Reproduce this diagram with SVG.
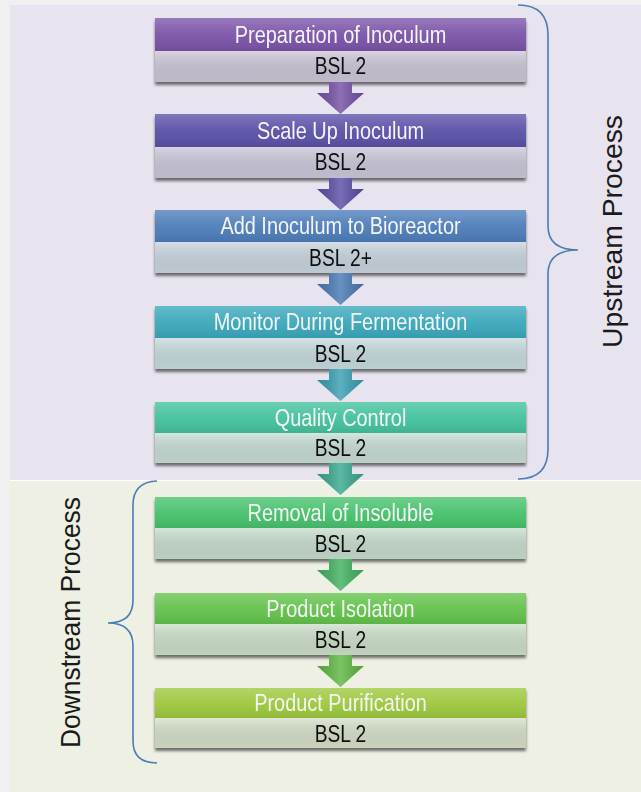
<svg xmlns="http://www.w3.org/2000/svg" width="641" height="792" viewBox="0 0 641 792">
  <style>
    .title { font-family: "Liberation Sans", Arial, sans-serif; font-size: 24px; fill: #f4f4f4; text-anchor: middle; }
    .bsl { font-family: "Liberation Sans", Arial, sans-serif; font-size: 24px; fill: #111111; text-anchor: middle; }
    .side { font-family: "Liberation Sans", Arial, sans-serif; font-size: 28px; fill: #1a1a1a; text-anchor: middle; }
    .brace { fill: none; stroke: #4d7bb3; stroke-width: 1.6; }
    .gloss { fill: url(#gloss); }
    .band { fill: url(#bandShade); }
    .arrow-gloss { fill: url(#arrowGloss); }
  </style>
  <defs>
    <filter id="shadow" x="-5%" y="-20%" width="110%" height="150%">
      <feDropShadow dx="0" dy="3" stdDeviation="1.6" flood-color="#000000" flood-opacity="0.55"/>
    </filter>
    <linearGradient id="gloss" x1="0" y1="0" x2="0" y2="1">
      <stop offset="0" stop-color="#ffffff" stop-opacity="0.22"/>
      <stop offset="0.5" stop-color="#ffffff" stop-opacity="0.05"/>
      <stop offset="1" stop-color="#000000" stop-opacity="0.08"/>
    </linearGradient>
    <linearGradient id="bandShade" x1="0" y1="0" x2="0" y2="1">
      <stop offset="0" stop-color="#ffffff" stop-opacity="0.25"/>
      <stop offset="1" stop-color="#000000" stop-opacity="0.06"/>
    </linearGradient>
    <linearGradient id="arrowGloss" x1="0" y1="0" x2="1" y2="0">
      <stop offset="0" stop-color="#000000" stop-opacity="0.12"/>
      <stop offset="0.5" stop-color="#ffffff" stop-opacity="0.18"/>
      <stop offset="1" stop-color="#000000" stop-opacity="0.12"/>
    </linearGradient>
    <!-- one arrow shape, placed under each box -->
    <path id="arrowShape" d="M329,0 H352 V11 H364 L340.5,32 L317,11 H329 Z"/>
  </defs>

  <!-- page and the two process panels -->
  <rect x="0" y="0" width="641" height="792" fill="#f0f0f0"/>
  <rect x="10" y="5" width="631" height="475" fill="#e8e4ef"/>
  <rect x="10" y="480" width="631" height="1" fill="#ffffff"/>
  <rect x="10" y="481" width="631" height="311" fill="#eef0e3"/>

  <!-- step boxes -->
  <g id="step-preparation" filter="url(#shadow)">
    <rect x="155" y="18" width="371" height="33" fill="#7b53a8"/>
    <rect x="155" y="18" width="371" height="33" class="gloss"/>
    <rect x="155" y="51" width="371" height="31" fill="#cdc6d7"/>
    <rect x="155" y="51" width="371" height="31" class="band"/>
    <text class="title" transform="translate(340.5,43) scale(0.83,1)">Preparation  of Inoculum</text>
    <text class="bsl" transform="translate(340.5,74) scale(0.8,1)">BSL 2</text>
  </g>
  <g id="step-scale-up" filter="url(#shadow)">
    <rect x="155" y="114" width="371" height="33" fill="#5a51a8"/>
    <rect x="155" y="114" width="371" height="33" class="gloss"/>
    <rect x="155" y="147" width="371" height="31" fill="#cbc8db"/>
    <rect x="155" y="147" width="371" height="31" class="band"/>
    <text class="title" transform="translate(340.5,138.5) scale(0.83,1)">Scale Up Inoculum</text>
    <text class="bsl" transform="translate(340.5,170) scale(0.8,1)">BSL 2</text>
  </g>
  <g id="step-add-inoculum" filter="url(#shadow)">
    <rect x="155" y="210" width="371" height="32" fill="#4d7dba"/>
    <rect x="155" y="210" width="371" height="32" class="gloss"/>
    <rect x="155" y="242" width="371" height="31" fill="#c9d5df"/>
    <rect x="155" y="242" width="371" height="31" class="band"/>
    <text class="title" transform="translate(340.5,234) scale(0.83,1)">Add Inoculum  to Bioreactor</text>
    <text class="bsl" transform="translate(340.5,265.5) scale(0.8,1)">BSL 2+</text>
  </g>
  <g id="step-monitor" filter="url(#shadow)">
    <rect x="155" y="306" width="371" height="32" fill="#3aa8bb"/>
    <rect x="155" y="306" width="371" height="32" class="gloss"/>
    <rect x="155" y="338" width="371" height="31" fill="#c7dcdf"/>
    <rect x="155" y="338" width="371" height="31" class="band"/>
    <text class="title" transform="translate(340.5,330) scale(0.83,1)">Monitor During Fermentation</text>
    <text class="bsl" transform="translate(340.5,361.5) scale(0.8,1)">BSL 2</text>
  </g>
  <g id="step-quality" filter="url(#shadow)">
    <rect x="155" y="402" width="371" height="31" fill="#43c29d"/>
    <rect x="155" y="402" width="371" height="31" class="gloss"/>
    <rect x="155" y="433" width="371" height="30" fill="#c8ddd6"/>
    <rect x="155" y="433" width="371" height="30" class="band"/>
    <text class="title" transform="translate(340.5,425.5) scale(0.83,1)">Quality  Control</text>
    <text class="bsl" transform="translate(340.5,456) scale(0.8,1)">BSL 2</text>
  </g>
  <g id="step-removal" filter="url(#shadow)">
    <rect x="155" y="497" width="371" height="31" fill="#46c26c"/>
    <rect x="155" y="497" width="371" height="31" class="gloss"/>
    <rect x="155" y="528" width="371" height="31" fill="#c7ddce"/>
    <rect x="155" y="528" width="371" height="31" class="band"/>
    <text class="title" transform="translate(340.5,520.5) scale(0.83,1)">Removal of Insoluble</text>
    <text class="bsl" transform="translate(340.5,552) scale(0.8,1)">BSL 2</text>
  </g>
  <g id="step-isolation" filter="url(#shadow)">
    <rect x="155" y="593" width="371" height="31" fill="#63c24b"/>
    <rect x="155" y="593" width="371" height="31" class="gloss"/>
    <rect x="155" y="624" width="371" height="31" fill="#cce0c9"/>
    <rect x="155" y="624" width="371" height="31" class="band"/>
    <text class="title" transform="translate(340.5,616.5) scale(0.83,1)">Product Isolation</text>
    <text class="bsl" transform="translate(340.5,648) scale(0.8,1)">BSL 2</text>
  </g>
  <g id="step-purification" filter="url(#shadow)">
    <rect x="155" y="688" width="371" height="30" fill="#9dc83d"/>
    <rect x="155" y="688" width="371" height="30" class="gloss"/>
    <rect x="155" y="718" width="371" height="30" fill="#d6e0c9"/>
    <rect x="155" y="718" width="371" height="30" class="band"/>
    <text class="title" transform="translate(340.5,711) scale(0.83,1)">Product  Purification</text>
    <text class="bsl" transform="translate(340.5,742) scale(0.8,1)">BSL 2</text>
  </g>

  <!-- connectors: block arrows between consecutive steps -->
  <g id="connectors">
    <g transform="translate(0,82)"><use href="#arrowShape" fill="#7450a6"/><use href="#arrowShape" class="arrow-gloss"/></g>
    <g transform="translate(0,178)"><use href="#arrowShape" fill="#5a4ea8"/><use href="#arrowShape" class="arrow-gloss"/></g>
    <g transform="translate(0,273)"><use href="#arrowShape" fill="#4a79b6"/><use href="#arrowShape" class="arrow-gloss"/></g>
    <g transform="translate(0,369)"><use href="#arrowShape" fill="#3a9fb2"/><use href="#arrowShape" class="arrow-gloss"/></g>
    <g transform="translate(0,463)"><use href="#arrowShape" fill="#3aa98f"/><use href="#arrowShape" class="arrow-gloss"/></g>
    <g transform="translate(0,559)"><use href="#arrowShape" fill="#40b25f"/><use href="#arrowShape" class="arrow-gloss"/></g>
    <g transform="translate(0,655)"><use href="#arrowShape" fill="#5fb843"/><use href="#arrowShape" class="arrow-gloss"/></g>
  </g>

  <!-- upstream brace and label -->
  <g id="upstream-group">
    <path class="brace" d="M518,5 Q548,5 548,35 L548,226 Q548,250 578,250 Q548,250 548,274 L548,449 Q548,479 518,479"/>
    <text class="side" transform="translate(622,231.5) rotate(-90)" textLength="233" lengthAdjust="spacingAndGlyphs">Upstream Process</text>
  </g>

  <!-- downstream brace and label -->
  <g id="downstream-group">
    <path class="brace" d="M157,481 Q133,482 133,505 L133,600 Q133,623 108,623 Q133,623 133,646 L133,741 Q133,763 157,763"/>
    <text class="side" transform="translate(80,622.5) rotate(-90)" textLength="251" lengthAdjust="spacingAndGlyphs">Downstream Process</text>
  </g>
</svg>
